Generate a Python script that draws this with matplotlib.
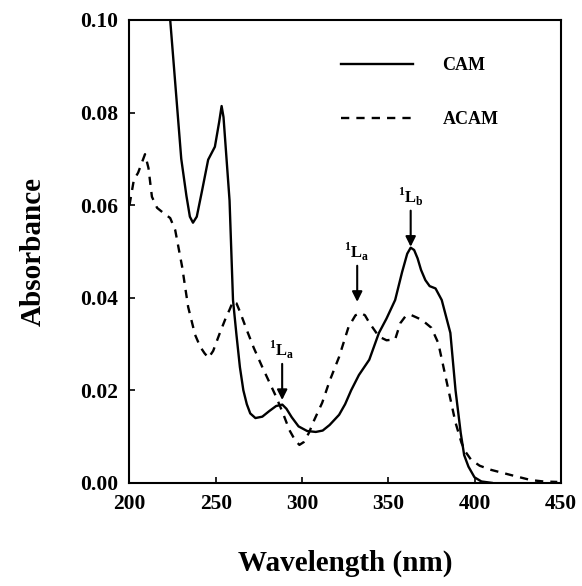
import matplotlib.pyplot as plt
import numpy as np

plt.rcParams['font.family'] = ['Liberation Serif', 'DejaVu Serif']
plt.rcParams['font.weight'] = 'bold'
plt.rcParams['mathtext.fontset'] = 'custom'
plt.rcParams['mathtext.rm'] = 'Liberation Serif:bold'
plt.rcParams['mathtext.bf'] = 'Liberation Serif:bold'

# CAM spectrum (solid)
cam_wl = [215, 223.6, 230, 233, 235, 236.8, 239, 242, 245.6, 249.5, 252, 253.4, 254.5,
          258, 260, 262, 264, 266, 268, 270, 273, 277, 281, 285, 288.6, 291, 294,
          298, 303, 308, 312, 316, 321.5, 325, 328.5, 333, 339, 344.6, 349, 354,
          358, 361, 363, 365, 367, 369, 371.5, 374, 377.4, 381, 386, 389, 392, 394,
          396.5, 400, 404, 410]
cam_abs = [0.125, 0.100, 0.070, 0.062, 0.0575, 0.0562, 0.0575, 0.063, 0.0698, 0.0726,
           0.078, 0.0814, 0.079, 0.061, 0.0395, 0.032, 0.025, 0.020, 0.017, 0.015,
           0.014, 0.0143, 0.0155, 0.0166, 0.0169, 0.016, 0.0142, 0.0122, 0.0112,
           0.0110, 0.0113, 0.0125, 0.0147, 0.017, 0.020, 0.0233, 0.0266, 0.0324,
           0.0355, 0.0395, 0.0455, 0.0495, 0.0508, 0.0503, 0.0485, 0.046, 0.0438,
           0.0425, 0.0420, 0.0395, 0.0324, 0.020, 0.0108, 0.006, 0.0035, 0.0012,
           0.0003, 0.0]

# ACAM spectrum (dashed)
acam_wl = [200, 202.5, 205, 207, 209, 211, 213, 216, 220, 223.6, 226.5, 230.5, 234,
           238, 241, 243.5, 245.8, 248.5, 252.4, 256, 258, 260, 262, 264, 268, 272,
           277, 281, 285, 289, 292.7, 296, 298.5, 301, 304, 307, 311.7, 316, 321.5,
           327, 331, 334, 336.5, 339, 344.6, 349, 354, 357, 360, 363, 366, 369.5,
           375, 379, 384, 389, 392.5, 395, 398, 403, 409.7, 421, 432.7, 440, 448]
acam_abs = [0.060, 0.0654, 0.067, 0.069, 0.071, 0.068, 0.0618, 0.0594, 0.0582, 0.0572,
            0.0546, 0.0467, 0.038, 0.032, 0.0294, 0.028, 0.027, 0.0285, 0.0324,
            0.0358, 0.0374, 0.0392, 0.0388, 0.037, 0.033, 0.0292, 0.025, 0.0218,
            0.0186, 0.015, 0.0114, 0.0092, 0.0082, 0.0088, 0.0108, 0.0135, 0.0173,
            0.022, 0.0272, 0.0337, 0.0362, 0.0367, 0.0362, 0.0346, 0.0316, 0.0308,
            0.031, 0.0345, 0.036, 0.0363, 0.0358, 0.0352, 0.0335, 0.0302, 0.0216,
            0.013, 0.0086, 0.0066, 0.005, 0.0037, 0.0028, 0.0017, 0.0006, 0.0003,
            0.0002]

# band assignments: (label, wavelength, arrow tip absorbance)
bands = [('$^1\\mathrm{L}_\\mathrm{a}$', 288.5, 0.0179),
         ('$^1\\mathrm{L}_\\mathrm{a}$', 332, 0.0391),
         ('$^1\\mathrm{L}_\\mathrm{b}$', 363, 0.0510)]

fig = plt.figure(figsize=(5.82, 5.86), dpi=100)
ax = fig.add_axes([0.2225, 0.176, 0.741, 0.790])

ax.plot(cam_wl, cam_abs, color='black', lw=1.7, label='CAM')
ax.plot(acam_wl, acam_abs, color='black', lw=1.7, ls=(0, (3.5, 3)), label='ACAM')

for txt, wl, tip in bands:
    ax.annotate('', xy=(wl, tip), xytext=(wl, tip + 0.0078),
                arrowprops=dict(arrowstyle='-|>', color='black', lw=1.5,
                                mutation_scale=15, shrinkA=0, shrinkB=0))
    ax.text(wl, tip + 0.0108, txt, ha='center', va='center', fontsize=12)

ax.set_xlim(200, 450)
ax.set_ylim(0, 0.10)
ax.set_xticks([200, 250, 300, 350, 400, 450])
ax.set_yticks([0.00, 0.02, 0.04, 0.06, 0.08, 0.10])
ax.set_yticklabels(['0.00', '0.02', '0.04', '0.06', '0.08', '0.10'])
ax.tick_params(direction='in', length=4, width=1.2, labelsize=15.5, pad=8)
for s in ax.spines.values():
    s.set_linewidth(1.5)

ax.set_xlabel('Wavelength (nm)', fontsize=21, fontweight='bold', labelpad=26)
ax.set_ylabel('Absorbance', fontsize=21, fontweight='bold', labelpad=24)

leg = ax.legend(loc='upper right', bbox_to_anchor=(0.893, 0.955), frameon=False,
                fontsize=13, handlelength=4.0, handletextpad=1.6, labelspacing=2.05)

fig.savefig('out.png', dpi=100)
